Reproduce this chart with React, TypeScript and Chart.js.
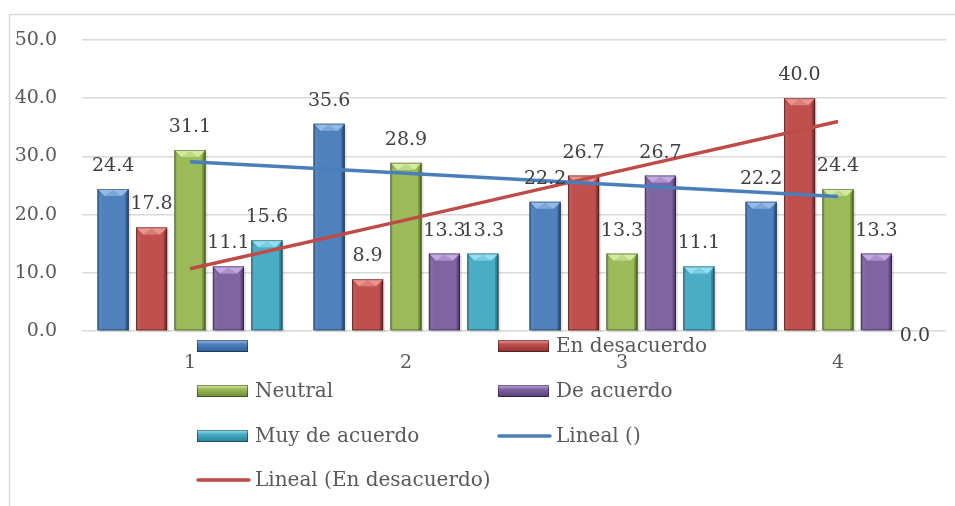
import React, { useEffect, useRef } from "react";
import { Chart, registerables } from "chart.js";

Chart.register(...registerables);

// ---- data ----
const categories = ["1", "2", "3", "4"];
const seriesNames = ["", "En desacuerdo", "Neutral", "De acuerdo", "Muy de acuerdo"];
const serieSinNombre = [24.4, 35.6, 22.2, 22.2];
const enDesacuerdo = [17.8, 8.9, 26.7, 40.0];
const neutral = [31.1, 28.9, 13.3, 24.4];
const deAcuerdo = [11.1, 13.3, 26.7, 13.3];
const muyDeAcuerdo = [15.6, 13.3, 11.1, 0.0];
const trendNames = ["Lineal ()", "Lineal (En desacuerdo)"];
const trendSinNombre = [29.1, 27.1, 25.1, 23.1];
const trendEnDesacuerdo = [10.7, 19.1, 27.6, 36.0];
const yMin = 0;
const yMax = 50;
const yStep = 10;

// ---- styles ----
const FONT = "'DejaVu Serif', serif";
const barPalettes = [
  { base: "#4f81bd", light: "#9cc0ec", dark: "#2f5d95" },
  { base: "#c0504d", light: "#ee9b98", dark: "#8e3230" },
  { base: "#9bbb59", light: "#dcefa8", dark: "#6d8a34" },
  { base: "#8064a2", light: "#c9b0e8", dark: "#553e76" },
  { base: "#4bacc6", light: "#9be6f6", dark: "#2a7f98" },
];
const lineColors = ["#4a7ebb", "#be4b48"];

const bevelPlugin = {
  id: "bevelBars",
  afterDatasetDraw(chart: any, args: any) {
    const meta = args.meta;
    if (meta.type !== "bar") return;
    const pal = barPalettes[args.index];
    const ctx = chart.ctx;
    meta.data.forEach((el: any) => {
      const { x, y, base, width } = el.getProps(["x", "y", "base", "width"], true);
      const h = base - y;
      if (h < 1) return;
      const x0 = x - width / 2;
      const x1 = x + width / 2;
      const b = Math.min(7, h / 2, width / 3);
      ctx.save();
      // soft shadow
      ctx.fillStyle = "rgba(0,0,0,0.10)";
      ctx.fillRect(x0 + 2, y + 2, width, h);
      // body gradient
      const g = ctx.createLinearGradient(x0, 0, x1, 0);
      g.addColorStop(0, pal.dark);
      g.addColorStop(0.12, pal.base);
      g.addColorStop(0.4, pal.base);
      g.addColorStop(0.88, pal.base);
      g.addColorStop(1, pal.dark);
      ctx.fillStyle = g;
      ctx.fillRect(x0, y, width, h);
      // top bevel
      ctx.beginPath();
      ctx.moveTo(x0, y);
      ctx.lineTo(x1, y);
      ctx.lineTo(x1 - b, y + b);
      ctx.lineTo(x0 + b, y + b);
      ctx.closePath();
      ctx.fillStyle = pal.light;
      ctx.globalAlpha = 0.9;
      ctx.fill();
      // inner darker chevron of the top bevel
      ctx.beginPath();
      ctx.moveTo(x0 + b, y + b);
      ctx.lineTo(x, y + 1);
      ctx.lineTo(x1 - b, y + b);
      ctx.closePath();
      ctx.fillStyle = pal.base;
      ctx.globalAlpha = 0.35;
      ctx.fill();
      ctx.globalAlpha = 1;
      // left bevel highlight
      ctx.beginPath();
      ctx.moveTo(x0, y);
      ctx.lineTo(x0 + b * 0.5, y + b);
      ctx.lineTo(x0 + b * 0.5, base);
      ctx.lineTo(x0, base);
      ctx.closePath();
      ctx.fillStyle = "rgba(255,255,255,0.12)";
      ctx.fill();
      // right bevel shadow
      ctx.beginPath();
      ctx.moveTo(x1, y);
      ctx.lineTo(x1 - b * 0.5, y + b);
      ctx.lineTo(x1 - b * 0.5, base);
      ctx.lineTo(x1, base);
      ctx.closePath();
      ctx.fillStyle = "rgba(0,0,0,0.15)";
      ctx.fill();
      // outline
      ctx.strokeStyle = "rgba(0,0,0,0.35)";
      ctx.lineWidth = 1;
      ctx.strokeRect(x0 + 0.5, y + 0.5, width - 1, h - 1);
      ctx.restore();
    });
  },
};

const labelsPlugin = {
  id: "valueLabels",
  afterDatasetsDraw(chart: any) {
    const ctx = chart.ctx;
    ctx.save();
    ctx.font = `19px ${FONT}`;
    ctx.fillStyle = "#404040";
    ctx.textAlign = "center";
    ctx.textBaseline = "middle";
    chart.data.datasets.forEach((ds: any, i: number) => {
      if (ds.type !== "bar") return;
      const meta = chart.getDatasetMeta(i);
      meta.data.forEach((el: any, j: number) => {
        const v = ds.data[j];
        const { x, y, base } = el.getProps(["x", "y", "base"], true);
        const ty = v === 0 ? base + 5 : y - 23;
        ctx.fillText(v.toFixed(1), x, ty);
      });
    });
    ctx.restore();
  },
};

const legendPlugin = {
  id: "customLegend",
  afterDraw(chart: any) {
    const ctx = chart.ctx;
    const colX = [197, 498];
    const rowY = [346, 391, 436, 480];
    ctx.save();
    // frame
    ctx.strokeStyle = "#d9d9d9";
    ctx.lineWidth = 1.5;
    ctx.strokeRect(9.5, 14.5, 3000, 3000);
    ctx.font = `20px ${FONT}`;
    ctx.fillStyle = "#595959";
    ctx.textBaseline = "middle";
    ctx.textAlign = "left";
    chart.data.datasets.forEach((ds: any, i: number) => {
      const col = i % 2;
      const row = Math.floor(i / 2);
      const mx = colX[col];
      const my = rowY[row];
      if (ds.type === "bar") {
        const pal = barPalettes[i];
        const g = ctx.createLinearGradient(0, my - 6, 0, my + 6);
        g.addColorStop(0, pal.light);
        g.addColorStop(0.35, pal.base);
        g.addColorStop(1, pal.dark);
        ctx.fillStyle = g;
        ctx.fillRect(mx, my - 6, 51, 12);
        ctx.strokeStyle = "rgba(0,0,0,0.4)";
        ctx.lineWidth = 1;
        ctx.strokeRect(mx + 0.5, my - 5.5, 50, 11);
      } else {
        ctx.strokeStyle = ds.borderColor;
        ctx.lineWidth = 3.5;
        ctx.lineCap = "round";
        ctx.beginPath();
        ctx.moveTo(mx + 1, my);
        ctx.lineTo(mx + 52, my);
        ctx.stroke();
      }
      ctx.fillStyle = "#595959";
      ctx.fillText(ds.label, mx + 58, my + 1);
    });
    ctx.restore();
  },
};

export default function App() {
  const ref = useRef<HTMLCanvasElement | null>(null);
  useEffect(() => {
    if (!ref.current) return;
    const barSeries = [serieSinNombre, enDesacuerdo, neutral, deAcuerdo, muyDeAcuerdo];
    const barDatasets = barSeries.map((d, i) => ({
      type: "bar" as const,
      label: seriesNames[i],
      data: d,
      backgroundColor: barPalettes[i].base,
      borderWidth: 0,
      order: 2,
      categoryPercentage: 0.89,
      barPercentage: 0.81,
    }));
    const trendSeries = [trendSinNombre, trendEnDesacuerdo];
    const lineDatasets = trendSeries.map((d, i) => ({
      type: "line" as const,
      label: trendNames[i],
      data: d,
      borderColor: lineColors[i],
      backgroundColor: lineColors[i],
      borderWidth: 3.5,
      pointRadius: 0,
      fill: false,
      tension: 0,
      order: 1,
    }));
    const chart = new Chart(ref.current, {
      type: "bar",
      data: {
        labels: categories,
        datasets: [...barDatasets, ...lineDatasets] as any,
      },
      options: {
        animation: false,
        responsive: true,
        maintainAspectRatio: false,
        layout: { padding: { top: 40, right: 9, left: 0, bottom: 0 } },
        plugins: {
          legend: { display: false },
          tooltip: { enabled: false },
        },
        scales: {
          x: {
            offset: true,
            grid: { display: false, drawTicks: false },
            border: { display: false },
            ticks: {
              font: { family: FONT, size: 19 },
              color: "#595959",
              padding: 21,
              maxRotation: 0,
            },
            afterFit(scale: any) {
              scale.height = 175;
            },
          },
          y: {
            min: yMin,
            max: yMax,
            grid: { color: "#d9d9d9", lineWidth: 1.5, drawTicks: false },
            border: { display: false },
            ticks: {
              stepSize: yStep,
              font: { family: FONT, size: 19 },
              color: "#595959",
              padding: 25,
              callback: (v: any) => Number(v).toFixed(1),
            },
            afterFit(scale: any) {
              scale.width = 82;
            },
          },
        },
      },
      plugins: [bevelPlugin, labelsPlugin, legendPlugin],
    });
    return () => chart.destroy();
  }, []);
  return (
    <div style={{ position: "absolute", left: 0, top: 0, width: 955, height: 506, background: "#fff" }}>
      <canvas ref={ref} />
    </div>
  );
}
